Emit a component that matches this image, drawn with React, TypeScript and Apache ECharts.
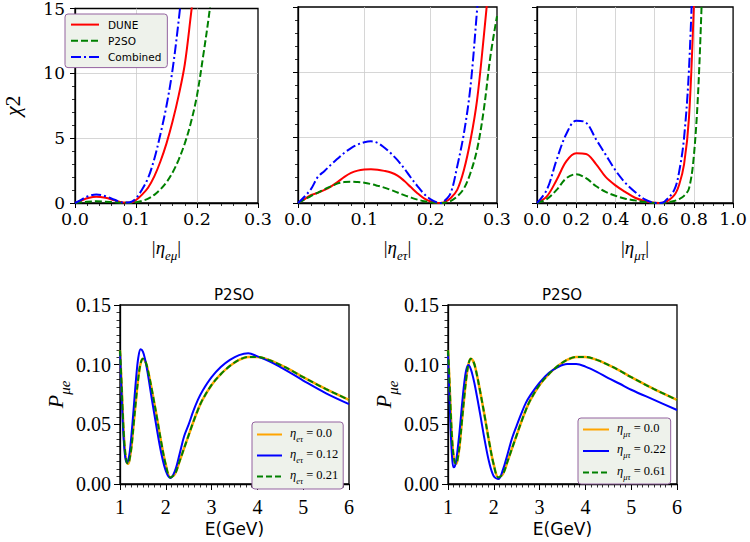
import React, { useEffect, useRef } from 'react';
import * as echarts from 'echarts';

// ---- chi^2 scans: |eta_emu| ----
const emuX = [0, 0.01, 0.02, 0.035, 0.05, 0.065, 0.08, 0.09, 0.1, 0.11, 0.12, 0.13, 0.14, 0.15, 0.16, 0.17, 0.18, 0.19, 0.2, 0.21, 0.22, 0.23];
const emuDune = [0, 0.18, 0.36, 0.49, 0.4, 0.2, 0.03, 0.02, 0.23, 0.65, 1.2, 2.05, 3.2, 4.6, 6.3, 8.3, 10.7, 14.5, 18.5, null, null, null];
const emuP2so = [0, 0.05, 0.1, 0.13, 0.1, 0.06, 0.01, 0.01, 0.05, 0.16, 0.33, 0.63, 1.05, 1.6, 2.35, 3.35, 4.6, 6.2, 8.3, 11.3, 14.6, 18.5];
const emuComb = [0, 0.25, 0.5, 0.66, 0.52, 0.25, 0.03, 0.05, 0.36, 1.05, 1.95, 3.4, 5.3, 7.5, 10.3, 14.1, 18.5, null, null, null, null, null];

// ---- chi^2 scans: |eta_etau| ----
const etX = [0, 0.01, 0.02, 0.03, 0.04, 0.05, 0.06, 0.07, 0.08, 0.09, 0.1, 0.11, 0.12, 0.13, 0.14, 0.15, 0.16, 0.17, 0.18, 0.19, 0.2, 0.21, 0.215, 0.22, 0.23, 0.24, 0.25, 0.26, 0.27, 0.28, 0.29, 0.3];
const etDune = [0, 0.3, 0.62, 0.78, 1.0, 1.28, 1.62, 2.0, 2.3, 2.48, 2.56, 2.58, 2.55, 2.46, 2.33, 2.1, 1.7, 1.22, 0.75, 0.36, 0.12, 0.01, 0, 0.04, 0.36, 1.0, 2.5, 4.8, 7.9, 12.7, 18, null];
const etP2so = [0, 0.27, 0.55, 0.8, 1.05, 1.28, 1.5, 1.6, 1.63, 1.6, 1.55, 1.45, 1.32, 1.18, 1.0, 0.8, 0.6, 0.42, 0.26, 0.14, 0.05, 0.01, 0, 0.02, 0.15, 0.5, 1.1, 2.3, 4.1, 7.1, 11.2, 14.3];
const etComb = [0, 0.5, 1.1, 2.0, 2.45, 2.95, 3.4, 3.85, 4.2, 4.47, 4.65, 4.72, 4.6, 4.25, 3.8, 3.28, 2.65, 1.95, 1.3, 0.7, 0.28, 0.04, 0, 0.12, 0.74, 2.8, 5.3, 8.9, 14.8, 21, null, null];

// ---- chi^2 scans: |eta_mutau| ----
const mtX = [0, 0.05, 0.1, 0.15, 0.2, 0.25, 0.3, 0.35, 0.4, 0.45, 0.5, 0.55, 0.6, 0.625, 0.65, 0.7, 0.725, 0.75, 0.775, 0.8, 0.825, 0.85];
const mtDune = [0, 0.5, 1.76, 3.2, 3.8, 3.75, 3.0, 2.0, 1.35, 0.85, 0.4, 0.15, 0.01, 0, 0.04, 0.6, 1.4, 2.95, 6.5, 15, 25, null];
const mtP2so = [0, 0.3, 1.0, 1.9, 2.2, 1.9, 1.3, 0.85, 0.55, 0.33, 0.2, 0.08, 0, 0, 0.02, 0.15, 0.3, 0.55, 1.1, 3.6, 9.5, 20];
const mtComb = [0, 1.0, 3.3, 5.3, 6.3, 6.15, 4.9, 3.7, 2.5, 1.55, 0.85, 0.28, 0.02, 0, 0.1, 1.0, 2.4, 5.0, 10.2, 20, null, null];

// ---- appearance probability P(mu -> e) for P2SO ----
const energy = [1.0, 1.03, 1.06, 1.09, 1.12, 1.15, 1.18, 1.21, 1.25, 1.3, 1.35, 1.4, 1.45, 1.5, 1.55, 1.6, 1.7, 1.8, 1.9, 2.0, 2.1, 2.2, 2.3, 2.4, 2.5, 2.6, 2.7, 2.8, 3.0, 3.2, 3.4, 3.6, 3.8, 4.0, 4.25, 4.5, 4.75, 5.0, 5.5, 6.0];
const pStd = [0.112, 0.088, 0.06, 0.037, 0.024, 0.018, 0.017, 0.021, 0.031, 0.051, 0.071, 0.089, 0.101, 0.105, 0.103, 0.097, 0.078, 0.057, 0.035, 0.016, 0.0055, 0.0085, 0.019, 0.03, 0.041, 0.052, 0.062, 0.0705, 0.083, 0.092, 0.099, 0.104, 0.1065, 0.1065, 0.104, 0.0998, 0.095, 0.0895, 0.0795, 0.0705];
const pEtau012 = [0.111, 0.08, 0.052, 0.032, 0.021, 0.018, 0.02, 0.026, 0.041, 0.064, 0.088, 0.106, 0.113, 0.111, 0.104, 0.094, 0.07, 0.047, 0.026, 0.011, 0.005, 0.011, 0.025, 0.04, 0.05, 0.061, 0.0705, 0.078, 0.0895, 0.098, 0.104, 0.108, 0.1095, 0.107, 0.103, 0.098, 0.0925, 0.0867, 0.076, 0.067];
const pMutau022 = [0.11, 0.075, 0.043, 0.022, 0.014, 0.015, 0.02, 0.029, 0.043, 0.064, 0.083, 0.096, 0.0998, 0.096, 0.089, 0.08, 0.059, 0.037, 0.018, 0.0065, 0.0042, 0.012, 0.025, 0.0385, 0.049, 0.059, 0.068, 0.0745, 0.085, 0.093, 0.098, 0.1005, 0.1005, 0.0984, 0.094, 0.0887, 0.084, 0.079, 0.0705, 0.062];

const etauLabels = ['η_eτ = 0.0', 'η_eτ = 0.12', 'η_eτ = 0.21'];
const mutauLabels = ['η_μτ = 0.0', 'η_μτ = 0.22', 'η_μτ = 0.61'];

const SERIF = "'Liberation Serif', 'DejaVu Serif', serif";
const WIDE_SERIF = "'DejaVu Serif', serif";
const SANS = "'DejaVu Sans', sans-serif";

const RED = '#ff0000';
const GREEN = '#008000';
const BLUE = '#0000ff';
const ORANGE = '#ffa500';

const pairs = (xs: number[], ys: (number | null)[]) => {
  const out: number[][] = [];
  xs.forEach((x, i) => {
    const y = ys[i];
    if (y !== null && y !== undefined) out.push([x, y]);
  });
  return out;
};

const mathRich = (size: number, sub: number) => {
  const raise = Math.round(size * 0.28);
  return {
    b: { fontFamily: SERIF, fontSize: size, color: '#000', verticalAlign: 'bottom', padding: [0, 0, raise, 0] },
    g: { fontFamily: SERIF, fontStyle: 'italic', fontSize: size, color: '#000', verticalAlign: 'bottom', padding: [0, 0, raise, 0] },
    t: { fontFamily: SERIF, fontSize: size, color: '#000', verticalAlign: 'bottom', padding: [0, 0, raise, 0] },
    s: { fontFamily: SERIF, fontStyle: 'italic', fontSize: sub, color: '#000', verticalAlign: 'bottom' },
  };
};

const legendMath = (name: string) => {
  const m = name.match(/^η_(\S+) = (.*)$/);
  if (!m) return name;
  return `{g|η}{s|${m[1]}}{t| = ${m[2]}}`;
};

const topXAxis = (grid: number, max: number, interval: number, minorSplit: number, sub: string) => ({
  type: 'value',
  gridIndex: grid,
  min: 0,
  max,
  interval,
  name: `{b||}{g|η}{s|${sub}}{b||}`,
  nameLocation: 'middle',
  nameGap: 35,
  nameTextStyle: { rich: mathRich(19, 13) },
  axisLine: { show: true, onZero: false, lineStyle: { color: '#000', width: 1.3 } },
  axisTick: { show: true, length: 5, lineStyle: { color: '#000', width: 1 } },
  minorTick: { show: true, splitNumber: minorSplit, length: 3, lineStyle: { color: '#000', width: 0.8 } },
  axisLabel: {
    color: '#000', fontFamily: WIDE_SERIF, fontSize: 17.5, margin: 7,
    showMinLabel: true, showMaxLabel: true,
    formatter: (v: number) => v.toFixed(1),
  },
  splitLine: { show: true, showMinLine: false, showMaxLine: false, lineStyle: { color: '#cccccc', width: 0.8 } },
});

const topYAxis = (grid: number, withLabels: boolean) => ({
  type: 'value',
  gridIndex: grid,
  min: 0,
  max: 15,
  interval: 5,
  name: withLabels ? '{g|χ}{t|2}' : '',
  nameLocation: 'middle',
  nameGap: 46,
  nameTextStyle: { rich: mathRich(22, 14) },
  axisLine: { show: true, onZero: false, lineStyle: { color: '#000', width: 1.3 } },
  axisTick: { show: true, length: 5, lineStyle: { color: '#000', width: 1 } },
  minorTick: { show: true, splitNumber: 5, length: 3, lineStyle: { color: '#000', width: 0.8 } },
  axisLabel: { show: withLabels, color: '#000', fontFamily: WIDE_SERIF, fontSize: 17, margin: 10 },
  splitLine: { show: true, showMinLine: false, showMaxLine: false, lineStyle: { color: '#cccccc', width: 0.8 } },
});

const bottomXAxis = (grid: number) => ({
  type: 'value',
  gridIndex: grid,
  min: 1,
  max: 6,
  interval: 1,
  name: 'E(GeV)',
  nameLocation: 'middle',
  nameGap: 36,
  nameTextStyle: { fontFamily: SANS, fontSize: 17, color: '#000' },
  axisLine: { show: true, onZero: false, lineStyle: { color: '#000', width: 1.3 } },
  axisTick: { show: true, length: 6, lineStyle: { color: '#000', width: 1 } },
  minorTick: { show: true, splitNumber: 8, length: 3.5, lineStyle: { color: '#000', width: 0.8 } },
  axisLabel: { color: '#000', fontFamily: SERIF, fontSize: 20, margin: 13, showMinLabel: true, showMaxLabel: true },
  splitLine: { show: false },
});

const bottomYAxis = (grid: number, gap: number) => ({
  type: 'value',
  gridIndex: grid,
  min: 0,
  max: 0.15,
  interval: 0.05,
  name: '{g|P}{s|μe}',
  nameLocation: 'middle',
  nameGap: gap,
  nameTextStyle: { rich: mathRich(22, 15) },
  axisLine: { show: true, onZero: false, lineStyle: { color: '#000', width: 1.3 } },
  axisTick: { show: true, length: 6, lineStyle: { color: '#000', width: 1 } },
  minorTick: { show: true, splitNumber: 8, length: 3.5, lineStyle: { color: '#000', width: 0.8 } },
  axisLabel: {
    color: '#000', fontFamily: SERIF, fontSize: 20, margin: 9,
    formatter: (v: number) => v.toFixed(2),
  },
  splitLine: { show: false },
});

const line = (name: string, grid: number, data: number[][], color: string, width: number, type: any) => ({
  type: 'line',
  name,
  xAxisIndex: grid,
  yAxisIndex: grid,
  data,
  smooth: 0.35,
  symbol: 'none',
  clip: true,
  silent: true,
  lineStyle: { color, width, type },
  itemStyle: { color },
});

const DASH = [7, 3];
const DASHDOT = [10, 3, 2, 3];

const legendBox = {
  orient: 'vertical',
  backgroundColor: '#eef2eb',
  borderColor: '#93629f',
  borderWidth: 1,
  borderRadius: 3,
  itemStyle: { opacity: 0 },
};

export default function App() {
  const ref = useRef<HTMLDivElement>(null);

  useEffect(() => {
    if (!ref.current) return;
    const chart = echarts.init(ref.current, null, { renderer: 'svg', width: 750, height: 542 });

    const option: any = {
      animation: false,
      backgroundColor: '#ffffff',
      grid: [
        { left: 58, top: 7, width: 200, height: 196, show: true, borderColor: '#000', borderWidth: 1.3, backgroundColor: 'transparent' },
        { left: 298, top: 7, width: 199, height: 196, show: true, borderColor: '#000', borderWidth: 1.3, backgroundColor: 'transparent' },
        { left: 537, top: 7, width: 199, height: 196, show: true, borderColor: '#000', borderWidth: 1.3, backgroundColor: 'transparent' },
        { left: 120, top: 305, width: 229, height: 179, show: true, borderColor: '#000', borderWidth: 1.3, backgroundColor: 'transparent' },
        { left: 448, top: 305, width: 229, height: 179, show: true, borderColor: '#000', borderWidth: 1.3, backgroundColor: 'transparent' },
      ],
      xAxis: [
        topXAxis(0, 0.3, 0.1, 5, 'eμ'),
        topXAxis(1, 0.3, 0.1, 5, 'eτ'),
        topXAxis(2, 1.0, 0.2, 4, 'μτ'),
        bottomXAxis(3),
        bottomXAxis(4),
      ],
      yAxis: [
        topYAxis(0, true),
        topYAxis(1, false),
        topYAxis(2, false),
        bottomYAxis(3, 47),
        bottomYAxis(4, 44),
      ],
      legend: [
        {
          ...legendBox,
          data: ['DUNE', 'P2SO', 'Combined'],
          left: 65,
          top: 14,
          itemWidth: 28,
          itemHeight: 14,
          itemGap: 5,
          padding: [5, 6, 5, 5],
          textStyle: { fontFamily: SANS, fontSize: 10.5, color: '#000', padding: [0, 0, 0, 4] },
        },
        {
          ...legendBox,
          data: etauLabels,
          left: 252,
          top: 422,
          itemWidth: 25,
          itemHeight: 13,
          itemGap: 4,
          padding: [4, 5, 4, 4],
          formatter: legendMath,
          textStyle: { color: '#000', padding: [0, 0, 0, 3], rich: mathRich(12.5, 8.5) },
        },
        {
          ...legendBox,
          data: mutauLabels,
          left: 578,
          top: 418,
          itemWidth: 26,
          itemHeight: 15,
          itemGap: 4.5,
          padding: [3, 5, 3, 4],
          formatter: legendMath,
          textStyle: { color: '#000', padding: [0, 0, 0, 3], rich: mathRich(12.5, 8.5) },
        },
      ],
      graphic: [
        { type: 'text', x: 234, y: 295, style: { text: 'P2SO', fontFamily: SANS, fontSize: 15, fill: '#000', align: 'center', verticalAlign: 'middle' } },
        { type: 'text', x: 562, y: 295, style: { text: 'P2SO', fontFamily: SANS, fontSize: 15, fill: '#000', align: 'center', verticalAlign: 'middle' } },
      ],
      series: [
        line('DUNE', 0, pairs(emuX, emuDune), RED, 2, 'solid'),
        line('P2SO', 0, pairs(emuX, emuP2so), GREEN, 2, DASH),
        line('Combined', 0, pairs(emuX, emuComb), BLUE, 2, DASHDOT),
        line('DUNE', 1, pairs(etX, etDune), RED, 2, 'solid'),
        line('P2SO', 1, pairs(etX, etP2so), GREEN, 2, DASH),
        line('Combined', 1, pairs(etX, etComb), BLUE, 2, DASHDOT),
        line('DUNE', 2, pairs(mtX, mtDune), RED, 2, 'solid'),
        line('P2SO', 2, pairs(mtX, mtP2so), GREEN, 2, DASH),
        line('Combined', 2, pairs(mtX, mtComb), BLUE, 2, DASHDOT),
        line(etauLabels[0], 3, pairs(energy, pStd), ORANGE, 2.5, 'solid'),
        line(etauLabels[1], 3, pairs(energy, pEtau012), BLUE, 2, 'solid'),
        line(etauLabels[2], 3, pairs(energy, pStd), GREEN, 2, [6, 3]),
        line(mutauLabels[0], 4, pairs(energy, pStd), ORANGE, 2.5, 'solid'),
        line(mutauLabels[1], 4, pairs(energy, pMutau022), BLUE, 2, 'solid'),
        line(mutauLabels[2], 4, pairs(energy, pStd), GREEN, 2, [6, 3]),
      ],
    };

    chart.setOption(option);
    return () => chart.dispose();
  }, []);

  return (
    <div
      ref={ref}
      style={{ position: 'absolute', left: 0, top: 0, width: 750, height: 542, background: '#fff' }}
    />
  );
}
